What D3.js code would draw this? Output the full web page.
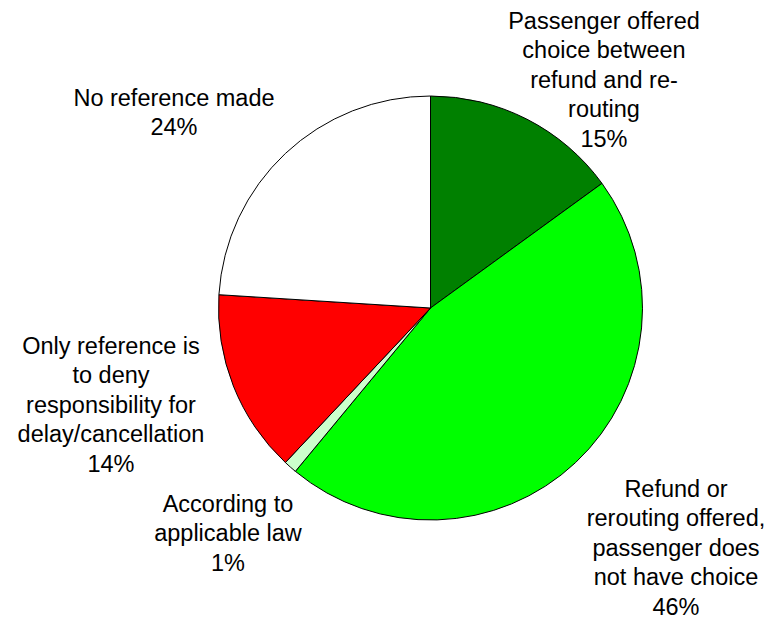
<!DOCTYPE html>
<html>
<head>
<meta charset="utf-8">
<script src="https://cdn.jsdelivr.net/npm/d3@7"></script>
<style>
  html, body { margin: 0; padding: 0; background: #fff; }
  svg { display: block; }
  text { font-family: "Liberation Sans", Arial, sans-serif; fill: #000; }
</style>
</head>
<body>
<svg id="chart" width="771" height="619"></svg>
<script>
// Categories (clockwise from 12 o'clock) and their shares in percent
const categories = [
  ["Passenger offered", "choice between", "refund and re-", "routing"],
  ["Refund or", "rerouting offered,", "passenger does", "not have choice"],
  ["According to", "applicable law"],
  ["Only reference is", "to deny", "responsibility for", "delay/cancellation"],
  ["No reference made"]
];
const shares = [15, 46, 1, 14, 24];
const sliceColors = ["#008000", "#00FF00", "#CCFFCC", "#FF0000", "#FFFFFF"];

// Label block anchors: centre x and baseline of the first line
const labelAnchors = [
  [604, 29], [676, 497], [228, 512], [111, 354], [174, 106]
];

const svg = d3.select("#chart");
const cx = 430.5, cy = 308, r = 212;
const lineH = 29.4;

const pie = d3.pie().sort(null).value(d => d);
const arc = d3.arc().innerRadius(0).outerRadius(r);

const g = svg.append("g").attr("transform", `translate(${cx},${cy})`);
g.selectAll("path")
  .data(pie(shares))
  .join("path")
  .attr("d", arc)
  .attr("fill", (d, i) => sliceColors[i])
  .attr("stroke", "#000")
  .attr("stroke-width", 1);

// Category labels with the percentage as the last line
const labels = svg.selectAll("text.lbl")
  .data(shares)
  .join("text")
  .attr("class", "lbl")
  .attr("text-anchor", "middle")
  .attr("font-size", 23.5);

labels.each(function (v, i) {
  const lines = categories[i].concat([v + "%"]);
  const t = d3.select(this);
  lines.forEach((s, k) => {
    t.append("tspan")
      .attr("x", labelAnchors[i][0])
      .attr("y", labelAnchors[i][1] + k * lineH)
      .text(s);
  });
});
</script>
</body>
</html>
